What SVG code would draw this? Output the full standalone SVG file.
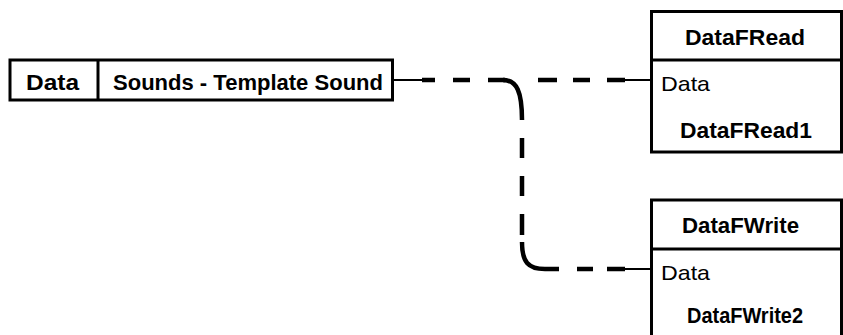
<svg xmlns="http://www.w3.org/2000/svg" width="843" height="335" viewBox="0 0 843 335">
<style>
.box{fill:#fff;stroke:#000;stroke-width:3}
.div{stroke:#000;stroke-width:3}
.b{font-family:"Liberation Sans",Arial,sans-serif;font-weight:bold;font-size:22.5px;fill:#000}
.r{font-family:"Liberation Sans",Arial,sans-serif;font-size:21px;fill:#000}
.thin{fill:none;stroke:#000;stroke-width:2}
.thick{fill:none;stroke:#000;stroke-width:4.5}
</style>
<rect width="843" height="335" fill="#fff"/>
<g id="connectors">
<path class="thin" d="M392 80 H422 M625 80 H651 M625 269 H651"/>
<path class="thick" d="M422 80 H435 M453 80 H470 M488 80 H505 M538 80 H557 M573 80 H590 M607 80 H625"/>
<path class="thick" d="M503 80 C517 80 522 92 522 120 M522 138 V158 M522 176 V196 M522 214 V235 M522 242 C522 262 528 269 545 269 H559 M577 269 H593 M607 269 H625"/>
</g>
<g id="node-data">
<rect class="box" x="10" y="60" width="382.5" height="40"/>
<line class="div" x1="98" y1="60" x2="98" y2="100"/>
<text class="b" x="26" y="90" textLength="53" lengthAdjust="spacingAndGlyphs">Data</text>
<text class="b" x="113" y="90" textLength="270" lengthAdjust="spacingAndGlyphs">Sounds - Template Sound</text>
</g>
<g id="node-datafread">
<rect class="box" x="651.5" y="11.5" width="190" height="140.5"/>
<line class="div" x1="651.5" y1="60" x2="841.5" y2="60"/>
<text class="b" x="685" y="45" textLength="120" lengthAdjust="spacingAndGlyphs">DataFRead</text>
<text class="r" x="661" y="91" textLength="49" lengthAdjust="spacingAndGlyphs">Data</text>
<text class="b" x="680" y="138" textLength="132" lengthAdjust="spacingAndGlyphs">DataFRead1</text>
</g>
<g id="node-datafwrite">
<rect class="box" x="651.5" y="200" width="190" height="150"/>
<line class="div" x1="651.5" y1="249" x2="841.5" y2="249"/>
<text class="b" x="682" y="233" textLength="117" lengthAdjust="spacingAndGlyphs">DataFWrite</text>
<text class="r" x="661" y="280" textLength="49" lengthAdjust="spacingAndGlyphs">Data</text>
<text class="b" x="687" y="323" textLength="116" lengthAdjust="spacingAndGlyphs">DataFWrite2</text>
</g>
</svg>
